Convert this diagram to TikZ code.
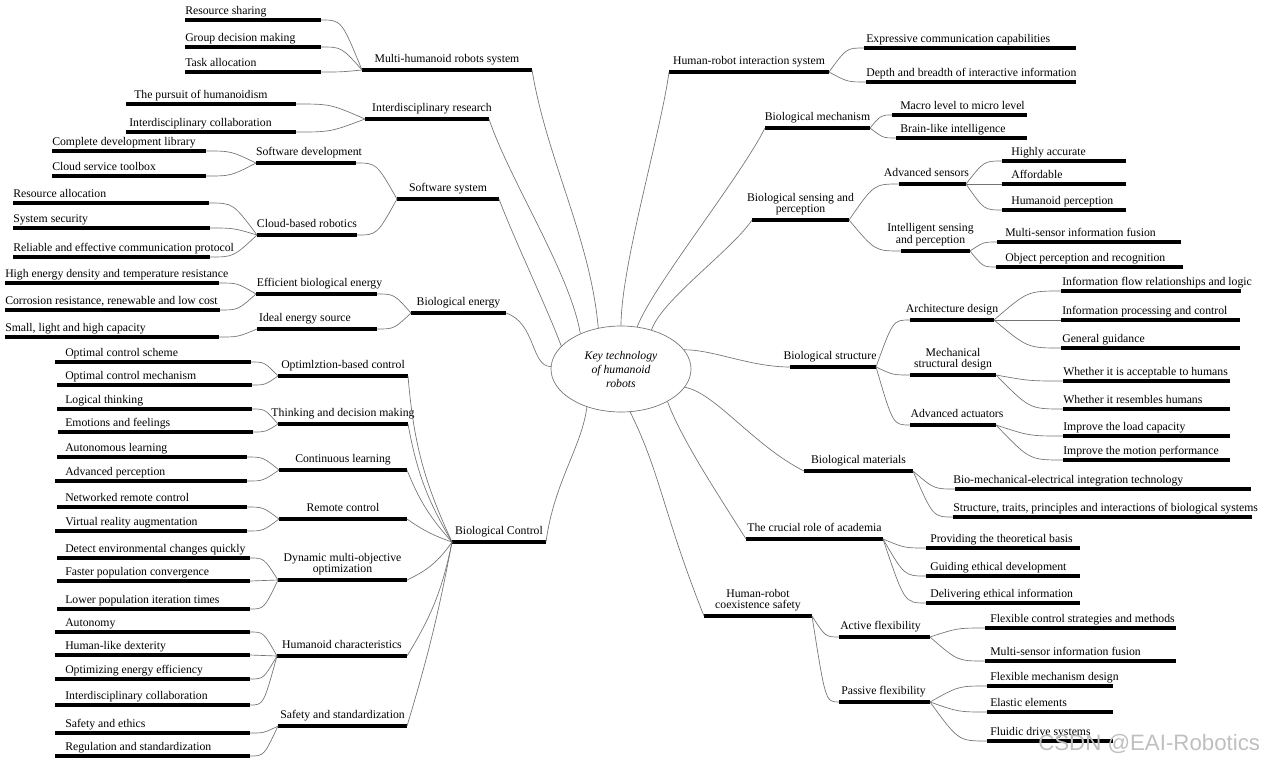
\documentclass[tikz,border=0pt]{standalone}
\usepackage{fontspec}
\setmainfont{Liberation Serif}
\newfontfamily\wmfont{Liberation Sans}
\usetikzlibrary{calc,shapes.geometric}

\tikzset{
	bar/.style={line width=2.6pt},
	conn/.style={black!55, line width=0.5pt},
	leaftext/.style={anchor=base west, inner sep=0pt, font=\fontsize{8.8}{8}\selectfont},
	hubtext/.style={anchor=base, align=center, inner sep=0pt, font=\fontsize{8.8}{8}\selectfont},
	keynode/.style={ellipse, draw=black!55, line width=0.5pt, minimum width=105pt, minimum height=64.5pt,
		inner sep=0pt, align=center, font=\fontsize{8.8}{10.5}\selectfont\itshape},
}

% underlined entry: [text shift]{name}{x left}{x right}{y}{text}
\newcommand{\mmleaf}[6][0]{%
	\draw[bar] (#3,-#5) coordinate (#2-l) -- (#4,-#5) coordinate (#2-r);
	\node[leaftext] (#2) at ({#3+#1},{-#5+6}) {#6};}
\newcommand{\mmhub}[6][0]{%
	\draw[bar] (#3,-#5) coordinate (#2-l) -- (#4,-#5) coordinate (#2-r);
	\node[hubtext] (#2) at ({(#3+#4)/2+#1},{-#5+7.5}) {#6};}
% curve, flat at the first end
\newcommand{\mmlink}[2]{\draw[conn] let \p1=(#1), \p2=(#2) in (#1) .. controls ({(\x1+\x2)/2},\y1) .. (#2);}

\begin{document}
\begin{tikzpicture}[x=0.75pt, y=0.75pt]
	\useasboundingbox (0,0) rectangle (1266,-764);

	\node[keynode] (key) at (621,-369) {Key technology\\of humanoid\\robots};

	% left side
	\mmhub{mhrs}{362}{532}{70}{Multi-humanoid robots system}
	\mmleaf{rsh}{185}{321}{20}{Resource sharing}
	\mmleaf{gdm}{185}{321}{47}{Group decision making}
	\mmleaf{tal}{185}{321}{72}{Task allocation}

	\mmhub[5]{ires}{365}{489}{119}{Interdisciplinary research}
	\mmleaf[8]{poh}{126}{296}{104}{The pursuit of humanoidism}
	\mmleaf[3]{icol}{126}{296}{132}{Interdisciplinary collaboration}

	\mmhub{ssys}{397}{499}{199}{Software system}
	\mmhub[3]{sdev}{256}{356}{163}{Software development}
	\mmleaf{cdl}{52}{206}{151}{Complete development library}
	\mmleaf{cst}{52}{206}{176}{Cloud service toolbox}
	\mmhub{cbr}{257}{357}{235}{Cloud-based robotics}
	\mmleaf{ral}{13}{209}{203}{Resource allocation}
	\mmleaf{ssec}{13}{210}{228}{System security}
	\mmleaf{recp}{13}{210}{257}{Reliable and effective communication protocol}

	\mmhub{benergy}{411}{506}{313}{Biological energy}
	\mmhub[3]{ebe}{256}{377}{294}{Efficient biological energy}
	\mmhub[-12]{ies}{257}{377}{329}{Ideal energy source}
	\mmleaf{hed}{5}{219}{283}{High energy density and temperature resistance}
	\mmleaf{crr}{5}{220}{310}{Corrosion resistance, renewable and low cost}
	\mmleaf{slh}{5}{219}{337}{Small, light and high capacity}

	\mmhub{bctl}{452}{546}{542}{Biological Control}
	\mmhub{obc}{278}{408}{376}{Optimlztion-based control}
	\mmleaf[10]{ocs}{55}{251}{362}{Optimal control scheme}
	\mmleaf[8]{ocm}{57}{252}{385}{Optimal control mechanism}
	\mmhub{tdm}{278}{408}{424}{Thinking and decision making}
	\mmleaf[8]{lth}{57}{252}{409}{Logical thinking}
	\mmleaf[7]{eaf}{58}{253}{432}{Emotions and feelings}
	\mmhub{cle}{279}{407}{470}{Continuous learning}
	\mmleaf[8]{aul}{57}{247}{457}{Autonomous learning}
	\mmleaf[10]{adp}{55}{247}{481}{Advanced perception}
	\mmhub{rco}{279}{407}{519}{Remote control}
	\mmleaf[8]{nrc}{57}{247}{507}{Networked remote control}
	\mmleaf[10]{vra}{55}{247}{531}{Virtual reality augmentation}
	\mmhub{dmo}{278}{407}{580}{Dynamic multi-objective\\optimization}
	\mmleaf[8]{dec}{57}{250}{558}{Detect environmental changes quickly}
	\mmleaf[8]{fpc}{57}{250}{581}{Faster population convergence}
	\mmleaf[8]{lpi}{57}{250}{609}{Lower population iteration times}
	\mmhub{hch}{277}{407}{656}{Humanoid characteristics}
	\mmleaf[10]{aut}{55}{250}{632}{Autonomy}
	\mmleaf[10]{hld}{55}{250}{655}{Human-like dexterity}
	\mmleaf[10]{oee}{55}{250}{679}{Optimizing energy efficiency}
	\mmleaf[10]{idc}{55}{250}{705}{Interdisciplinary collaboration}
	\mmhub{sst}{278}{407}{726}{Safety and standardization}
	\mmleaf[10]{sae}{55}{250}{733}{Safety and ethics}
	\mmleaf[10]{ras}{55}{250}{756}{Regulation and standardization}

	% right side
	\mmhub{hri}{669}{829}{72}{Human-robot interaction system}
	\mmleaf[2]{ecc}{864}{1076}{48}{Expressive communication capabilities}
	\mmleaf{dbi}{866}{1076}{82}{Depth and breadth of interactive information}

	\mmhub{bme}{765}{870}{128}{Biological mechanism}
	\mmleaf[8]{mlm}{892}{1027}{115}{Macro level to micro level}
	\mmleaf[4]{bli}{896}{1027}{138}{Brain-like intelligence}

	\mmhub{bsp}{752}{849}{220}{Biological sensing and\\perception}
	\mmhub[-6]{ase}{899}{966}{184}{Advanced sensors}
	\mmleaf[9]{hac}{1002}{1126}{161}{Highly accurate}
	\mmleaf[9]{aff}{1002}{1126}{184}{Affordable}
	\mmleaf[9]{hpe}{1002}{1126}{210}{Humanoid perception}
	\mmhub[-5]{isp}{901}{970}{251}{Intelligent sensing\\and perception}
	\mmleaf[8]{msf}{997}{1181}{242}{Multi-sensor information fusion}
	\mmleaf[9]{opr}{996}{1183}{267}{Object perception and recognition}

	\mmhub[-3]{bst}{790}{876}{367}{Biological structure}
	\mmhub{ade}{910}{994}{320}{Architecture design}
	\mmleaf[1]{ifr}{1061}{1241}{291}{Information flow relationships and logic}
	\mmleaf[1]{ipc}{1061}{1240}{320}{Information processing and control}
	\mmleaf[1]{ggu}{1061}{1240}{348}{General guidance}
	\mmhub{msd}{910}{996}{375}{Mechanical\\structural design}
	\mmleaf{wah}{1063}{1230}{381}{Whether it is acceptable to humans}
	\mmleaf{wrh}{1063}{1230}{409}{Whether it resembles humans}
	\mmhub[4]{aac}{910}{996}{425}{Advanced actuators}
	\mmleaf{ilc}{1063}{1230}{436}{Improve the load capacity}
	\mmleaf{imp}{1063}{1230}{460}{Improve the motion performance}

	\mmhub{bmat}{804}{913}{471}{Biological materials}
	\mmleaf[-2]{bmei}{955}{1251}{489}{Bio-mechanical-electrical integration technology}
	\mmleaf{stp}{953}{1252}{517}{Structure, traits, principles and interactions of biological systems}

	\mmhub{cra}{746}{883}{539}{The crucial role of academia}
	\mmleaf[4]{ptb}{926}{1080}{548}{Providing the theoretical basis}
	\mmleaf[4]{ged}{926}{1080}{576}{Guiding ethical development}
	\mmleaf[4]{dei}{926}{1080}{603}{Delivering ethical information}

	\mmhub{hrcs}{704}{812}{616}{Human-robot\\coexistence safety}
	\mmhub[-4]{afl}{839}{930}{637}{Active flexibility}
	\mmleaf[5]{fcs}{985}{1176}{628}{Flexible control strategies and methods}
	\mmleaf[5]{msi}{985}{1176}{661}{Multi-sensor information fusion}
	\mmhub[-1]{pfl}{839}{930}{702}{Passive flexibility}
	\mmleaf[3]{fmd}{987}{1113}{686}{Flexible mechanism design}
	\mmleaf[3]{eel}{987}{1113}{712}{Elastic elements}
	\mmleaf[3]{fds}{987}{1113}{741}{Fluidic drive systems}

	% links to the centre
	\draw[conn] (mhrs-r) .. controls +(15,-90) and +(-8,90) .. (key.119);
	\draw[conn] (ires-r) .. controls +(20,-60) and +(-10,60) .. (key.139);
	\draw[conn] (ssys-r) .. controls +(15,-40) and +(-15,40) .. (key.159);
	\draw[conn] (benergy-r) .. controls +(30,-10) and +(-20,0) .. (key.178);
	\draw[conn] (bctl-r) .. controls +(8,60) and +(-5,-40) .. (key.228);
	\draw[conn] (key.282) .. controls +(30,-60) and +(-40,100) .. (hrcs-l);
	\draw[conn] (key.325) .. controls +(15,-40) and +(-25,40) .. (cra-l);
	\draw[conn] (key.344) .. controls +(30,-5) and +(-50,25) .. (bmat-l);
	\draw[conn] (key.17) .. controls +(30,0) and +(-40,0) .. (bst-l);
	\draw[conn] (key.52) .. controls +(10,30) and +(-20,-30) .. (bsp-l);
	\draw[conn] (key.69) .. controls +(15,40) and +(-25,-50) .. (bme-l);
	\draw[conn] (key.90) .. controls +(0,60) and +(-8,-60) .. (hri-l);

	% left links
	\foreach \c in {rsh,gdm,tal} {\mmlink{\c-r}{mhrs-l}}
	\foreach \c in {poh,icol} {\mmlink{\c-r}{ires-l}}
	\foreach \c in {cdl,cst} {\mmlink{\c-r}{sdev-l}}
	\foreach \c in {ral,ssec,recp} {\mmlink{\c-r}{cbr-l}}
	\foreach \c in {sdev,cbr} {\mmlink{\c-r}{ssys-l}}
	\foreach \c in {hed,crr} {\mmlink{\c-r}{ebe-l}}
	\mmlink{slh-r}{ies-l}
	\foreach \c in {ebe,ies} {\mmlink{\c-r}{benergy-l}}
	\foreach \c in {ocs,ocm} {\mmlink{\c-r}{obc-l}}
	\foreach \c in {lth,eaf} {\mmlink{\c-r}{tdm-l}}
	\foreach \c in {aul,adp} {\mmlink{\c-r}{cle-l}}
	\foreach \c in {nrc,vra} {\mmlink{\c-r}{rco-l}}
	\foreach \c in {dec,fpc,lpi} {\mmlink{\c-r}{dmo-l}}
	\foreach \c in {aut,hld,oee,idc} {\mmlink{\c-r}{hch-l}}
	\foreach \c in {sae,ras} {\mmlink{\c-r}{sst-l}}
	\foreach \c/\b in {obc/10,tdm/10,cle/10,rco/8,dmo/15,hch/10,sst/3}
		{\draw[conn] (\c-r) to[bend right=\b] (bctl-l);}

	% right links
	\foreach \c in {ecc,dbi} {\mmlink{\c-l}{hri-r}}
	\foreach \c in {mlm,bli} {\mmlink{\c-l}{bme-r}}
	\foreach \c in {ase,isp} {\mmlink{\c-l}{bsp-r}}
	\foreach \c in {hac,aff,hpe} {\mmlink{\c-l}{ase-r}}
	\foreach \c in {msf,opr} {\mmlink{\c-l}{isp-r}}
	\foreach \c in {ade,msd,aac} {\mmlink{\c-l}{bst-r}}
	\foreach \c in {ifr,ipc,ggu} {\mmlink{\c-l}{ade-r}}
	\foreach \c in {wah,wrh} {\mmlink{\c-l}{msd-r}}
	\foreach \c in {ilc,imp} {\mmlink{\c-l}{aac-r}}
	\foreach \c in {bmei,stp} {\mmlink{\c-l}{bmat-r}}
	\foreach \c in {ptb,ged,dei} {\mmlink{\c-l}{cra-r}}
	\foreach \c in {afl,pfl} {\mmlink{\c-l}{hrcs-r}}
	\foreach \c in {fcs,msi} {\mmlink{\c-l}{afl-r}}
	\foreach \c in {fmd,eel,fds} {\mmlink{\c-l}{pfl-r}}

	\node[anchor=base west, inner sep=0pt, text=black!25, font=\wmfont\fontsize{16.7}{18}\selectfont] (wm) at (1038,-750) {CSDN @EAI-Robotics};
\end{tikzpicture}
\end{document}
